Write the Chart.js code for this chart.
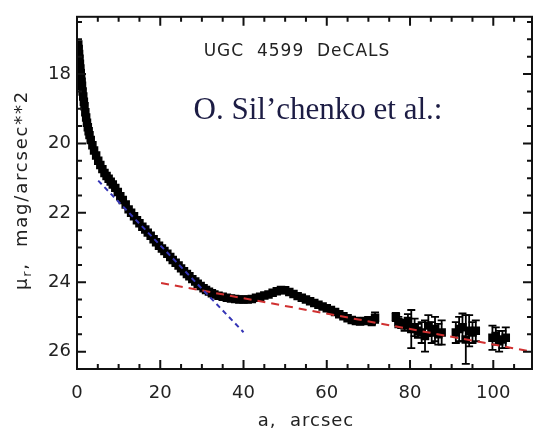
<!DOCTYPE html>
<html>
<head>
<meta charset="utf-8">
<script src="https://cdn.jsdelivr.net/npm/chart.js@4.4.1/dist/chart.umd.min.js"></script>
<style>
    body { margin: 0; background: #fff; }
    canvas { display: block; }
</style>
</head>
<body>
<canvas class="js-graph" width="538" height="430"></canvas>
<script>
// surface brightness profile, inner part (dense)
const profile_a = [0.3, 0.4, 0.5, 0.6, 0.7, 0.8, 0.9, 1.0, 1.1, 1.2, 1.35, 1.5, 1.65, 1.8, 2.0, 2.2, 2.4, 2.6, 2.8, 3.0,
    3.3, 3.7, 4.1, 4.6, 5.1, 5.6, 6.1, 6.6, 7.1, 7.6, 8.1, 8.6, 9.2, 9.8, 10.4, 11, 11.7, 12.4, 13, 13.7,
    14.4, 15, 15.7, 16.4, 17, 17.7, 18.4, 19, 19.7, 20.4, 21, 21.7, 22.4, 23, 23.7, 24.4, 25, 25.7, 26.4, 27,
    27.7, 28.4, 29, 29.7, 30.4, 31, 31.7, 32.4, 33, 34, 35, 36, 37, 38, 39, 40, 41, 42, 43, 44,
    45, 46, 47, 48, 49, 50, 51, 52, 53, 54, 55, 56, 57, 58, 59, 60, 61, 62, 63, 64,
    65, 66, 67, 68, 69];
const profile_mu = [17.15, 17.28, 17.42, 17.56, 17.7, 17.84, 17.97, 18.1, 18.22, 18.34, 18.5, 18.65, 18.8, 18.93, 19.1, 19.25, 19.4, 19.53, 19.65, 19.76,
    19.9, 20.05, 20.2, 20.35, 20.5, 20.62, 20.74, 20.85, 20.94, 21.02, 21.1, 21.18, 21.28, 21.4, 21.52, 21.63, 21.76, 21.9, 22.0, 22.1,
    22.21, 22.3, 22.4, 22.48, 22.57, 22.66, 22.76, 22.85, 22.95, 23.03, 23.1, 23.18, 23.27, 23.36, 23.44, 23.52, 23.6, 23.68, 23.76, 23.83,
    23.91, 23.98, 24.04, 24.11, 24.17, 24.22, 24.27, 24.32, 24.35, 24.39, 24.42, 24.45, 24.47, 24.48, 24.5, 24.5, 24.5, 24.48, 24.45, 24.42,
    24.38, 24.35, 24.3, 24.26, 24.22, 24.23, 24.28, 24.34, 24.4, 24.45, 24.5, 24.55, 24.6, 24.65, 24.7, 24.75, 24.8, 24.86, 24.92, 24.98,
    25.04, 25.09, 25.12, 25.13, 25.12];

// outer points with error bars
const outer_a = [70.0, 70.8, 71.6, 76.6, 77.2, 77.9, 78.7, 79.5, 80.3, 81.1, 81.9, 82.8, 83.6, 84.4, 85.2,
    86.0, 86.8, 87.6, 91.0, 91.8, 92.6, 93.4, 94.2, 95.0, 95.8, 99.8, 100.6, 101.4, 102.2, 103.0];
const outer_mu = [25.1, 25.12, 25.02, 25.0, 25.15, 25.2, 25.25, 25.12, 25.35, 25.3, 25.4, 25.45, 25.55, 25.25, 25.45,
    25.35, 25.5, 25.45, 25.45, 25.35, 25.3, 25.65, 25.4, 25.45, 25.4, 25.6, 25.55, 25.7, 25.65, 25.6];
const outer_err = [0.1, 0.12, 0.15, 0.12, 0.15, 0.12, 0.15, 0.2, 0.55, 0.25, 0.2, 0.3, 0.45, 0.3, 0.3,
    0.35, 0.3, 0.35, 0.3, 0.35, 0.4, 0.7, 0.45, 0.3, 0.3, 0.35, 0.25, 0.3, 0.25, 0.3];

// fitted lines (end points)
const inner_fit_a = [5.1, 40];
const inner_fit_mu = [21.07, 25.44];
const disk_fit_a = [20.2, 109.3];
const disk_fit_mu = [24.02, 26.0];

const x_ticks = [0, 20, 40, 60, 80, 100];
const y_ticks = [18, 20, 22, 24, 26];
const x_minor = 5;
const y_minor = 0.5;

const to_points = (xs, ys) => xs.map((v, i) => ({x: v, y: ys[i]}));

const error_bars = {
    id: 'error_bars',
    beforeDatasetsDraw(chart) {
        const {ctx, scales: {x, y}} = chart;
        ctx.save();
        ctx.strokeStyle = '#000';
        ctx.lineWidth = 1.8;
        outer_a.forEach((a, i) => {
            const px = x.getPixelForValue(a);
            const top = y.getPixelForValue(outer_mu[i] - outer_err[i]);
            const bot = y.getPixelForValue(outer_mu[i] + outer_err[i]);
            ctx.beginPath();
            ctx.moveTo(px, top); ctx.lineTo(px, bot);
            ctx.moveTo(px - 4, top); ctx.lineTo(px + 4, top);
            ctx.moveTo(px - 4, bot); ctx.lineTo(px + 4, bot);
            ctx.stroke();
        });
        ctx.restore();
    }
};

// box with inward ticks on all four sides + texts
const frame = {
    id: 'frame',
    afterDraw(chart) {
        const {ctx, chartArea: a, scales: {x, y}} = chart;
        ctx.save();
        ctx.strokeStyle = '#111';
        ctx.lineWidth = 2;
        ctx.strokeRect(a.left, a.top, a.right - a.left, a.bottom - a.top);
        ctx.beginPath();
        for (let v = x.min; v <= x.max; v += x_minor) {
            const px = x.getPixelForValue(v);
            const len = x_ticks.includes(v) ? 9 : 5;
            ctx.moveTo(px, a.bottom); ctx.lineTo(px, a.bottom - len);
            ctx.moveTo(px, a.top); ctx.lineTo(px, a.top + len);
        }
        for (let v = Math.ceil(y.min / y_minor) * y_minor; v <= y.max; v += y_minor) {
            const py = y.getPixelForValue(v);
            const len = y_ticks.includes(v) ? 9 : 5;
            ctx.moveTo(a.left, py); ctx.lineTo(a.left + len, py);
            ctx.moveTo(a.right, py); ctx.lineTo(a.right - len, py);
        }
        ctx.stroke();

        ctx.fillStyle = '#222';
        ctx.textAlign = 'center';
        ctx.textBaseline = 'alphabetic';
        ctx.font = '17px "DejaVu Sans"';
        ctx.letterSpacing = '1px';
        ctx.fillText('UGC  4599  DeCALS', 297, 56);

        ctx.font = '18px "DejaVu Sans"';
        ctx.fillText('a,  arcsec', 306, 426);

        ctx.letterSpacing = '0px';
        ctx.fillStyle = '#1c1c44';
        ctx.font = '31px "Liberation Serif"';
        ctx.fillText('O. Sil\u2019chenko et al.:', 318, 119);

        // y title, rotated, with subscript r
        ctx.fillStyle = '#222';
        ctx.translate(27, 190);
        ctx.rotate(-Math.PI / 2);
        ctx.textAlign = 'left';
        ctx.letterSpacing = '1.8px';
        const rest = ',  mag/arcsec**2';
        ctx.font = '13px "DejaVu Sans"';
        const w_sub = ctx.measureText('r').width;
        ctx.font = '18px "DejaVu Sans"';
        const w_mu = ctx.measureText('\u03bc').width;
        const w_rest = ctx.measureText(rest).width;
        let sx = -(w_mu + w_sub + w_rest) / 2;
        ctx.fillText('\u03bc', sx, 0);
        sx += w_mu;
        ctx.font = '13px "DejaVu Sans"';
        ctx.fillText('r', sx, 4);
        sx += w_sub;
        ctx.font = '18px "DejaVu Sans"';
        ctx.fillText(rest, sx, 0);
        ctx.restore();
    }
};

const innit = () => {
    const ctx = document.querySelector('.js-graph').getContext('2d');
    const tick_font = {family: 'DejaVu Sans', size: 18};

    new Chart(ctx, {
        type: 'scatter',
        data: {
            datasets: [{
                data: to_points(inner_fit_a, inner_fit_mu),
                showLine: true,
                pointRadius: 0,
                borderColor: '#3535b5',
                borderWidth: 2,
                borderDash: [5, 4],
                order: 0,
            }, {
                data: to_points(disk_fit_a, disk_fit_mu),
                showLine: true,
                pointRadius: 0,
                borderColor: '#d03030',
                borderWidth: 2,
                borderDash: [8, 6],
                order: 0,
            }, {
                data: to_points(profile_a, profile_mu),
                pointStyle: 'rect',
                pointRadius: 6,
                backgroundColor: '#000',
                borderWidth: 0,
                order: 1,
            }, {
                data: to_points(outer_a, outer_mu),
                pointStyle: 'rect',
                pointRadius: 6,
                backgroundColor: '#000',
                borderWidth: 0,
                order: 1,
            }]
        },
        options: {
            responsive: false,
            animation: false,
            devicePixelRatio: 1,
            layout: {padding: {top: 12, right: 3, left: 0, bottom: 0}},
            plugins: {
                legend: {display: false},
                tooltip: {enabled: false},
            },
            scales: {
                x: {
                    type: 'linear',
                    min: 0,
                    max: 109.3,
                    grid: {display: false, drawTicks: false},
                    border: {display: false},
                    ticks: {font: tick_font, color: '#222', padding: 14, maxRotation: 0, autoSkip: false},
                    afterBuildTicks: (s) => { s.ticks = x_ticks.map((v) => ({value: v})); },
                    afterFit: (s) => { s.height = 61; },
                },
                y: {
                    type: 'linear',
                    min: 16.35,
                    max: 26.5,
                    reverse: true,
                    grid: {display: false, drawTicks: false},
                    border: {display: false},
                    ticks: {font: tick_font, color: '#222', padding: 6, autoSkip: false},
                    afterBuildTicks: (s) => { s.ticks = y_ticks.map((v) => ({value: v})); },
                    afterFit: (s) => { s.width = 77; },
                }
            }
        },
        plugins: [error_bars, frame]
    });
};

innit();
</script>
</body>
</html>
